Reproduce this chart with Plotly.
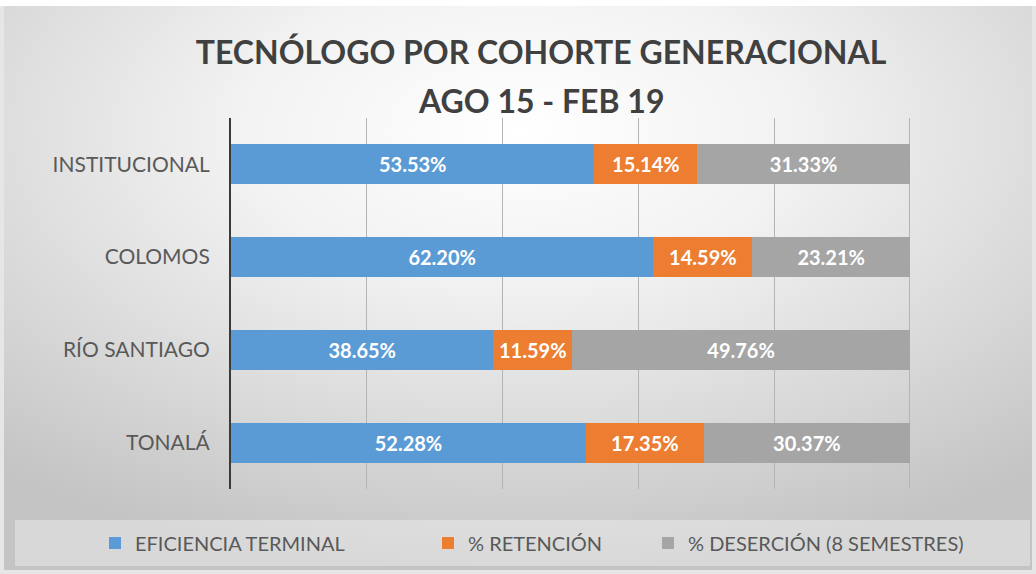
import base64
import plotly.graph_objects as go

categories = ["INSTITUCIONAL", "COLOMOS", "RÍO SANTIAGO", "TONALÁ"]
eficiencia = [53.53, 62.20, 38.65, 52.28]
retencion = [15.14, 14.59, 11.59, 17.35]
desercion = [31.33, 23.21, 49.76, 30.37]
series_names = ["EFICIENCIA TERMINAL", "% RETENCIÓN", "% DESERCIÓN (8 SEMESTRES)"]
colors = ["#5B9BD5", "#ED7D31", "#A5A5A5"]
x_ticks = [0, 20, 40, 60, 80, 100]

W, H = 1036, 574
ML, MR, MT, MB = 231, 125, 118, 85
PW, PH = W - ML - MR, H - MT - MB

FONT = "Lato, 'Open Sans', sans-serif"

svg = f'''<svg xmlns="http://www.w3.org/2000/svg" width="{W}" height="{H}" viewBox="0 0 {W} {H}" preserveAspectRatio="none">
<defs><radialGradient id="g" cx="0.5" cy="0.22" r="0.78">
<stop offset="0" stop-color="#ffffff"/><stop offset="0.35" stop-color="#f2f2f2"/><stop offset="1" stop-color="#c4c4c4"/>
</radialGradient></defs>
<rect x="0" y="0" width="{W}" height="{H}" fill="#e6e6e6"/>
<rect x="0" y="0" width="{W}" height="6" fill="#ffffff"/>
<rect x="4" y="6" width="{W-8}" height="{H-10}" fill="url(#g)"/>
</svg>'''
src = "data:image/svg+xml;base64," + base64.b64encode(svg.encode()).decode()

legend_ids = ["legend", "legend2", "legend3"]
legend_text_x = [135, 468, 688]

fig = go.Figure()
for name, vals, col, lid in zip(series_names, [eficiencia, retencion, desercion], colors, legend_ids):
    fig.add_trace(go.Bar(
        y=categories, x=vals, name=name, orientation="h", legend=lid,
        marker=dict(color=col, line=dict(width=0)),
        text=[f"{v:.2f}%" for v in vals], textposition="inside",
        insidetextanchor="middle", textangle=0, constraintext="none",
        textfont=dict(family=FONT, size=20, color="white", weight="bold"),
        hoverinfo="x+y+name",
    ))

legend_common = dict(orientation="h", xref="container", xanchor="left",
                     y=1 - 543 / H, yref="container", yanchor="middle",
                     bgcolor="rgba(0,0,0,0)", itemwidth=30,
                     font=dict(family=FONT, size=20, color="#595959"))

fig.update_layout(
    width=W, height=H,
    margin=dict(l=ML, r=MR, t=MT, b=MB, pad=0),
    barmode="stack", bargap=0.57,
    paper_bgcolor="white", plot_bgcolor="rgba(0,0,0,0)",
    font=dict(family=FONT, color="#595959"),
    title=dict(text="<b>TECNÓLOGO POR COHORTE GENERACIONAL</b>",
               x=541 / W, xanchor="center", xref="container",
               y=1 - 53 / H, yanchor="middle", yref="container",
               font=dict(family=FONT, size=32, color="#404040")),
    xaxis=dict(range=[0, 100.15], tickvals=x_ticks, showticklabels=False,
               showgrid=True, gridcolor="#b4b4b4", gridwidth=1,
               zeroline=False, showline=False, fixedrange=True),
    yaxis=dict(categoryorder="array", categoryarray=categories[::-1],
               showline=True, linecolor="#3a3a3a", linewidth=2,
               showgrid=False, ticks="", ticklabelstandoff=15,
               tickfont=dict(family=FONT, size=21, color="#595959")),
    legend=dict(x=(legend_text_x[0] - 40) / W, **legend_common),
    legend2=dict(x=(legend_text_x[1] - 40) / W, **legend_common),
    legend3=dict(x=(legend_text_x[2] - 40) / W, **legend_common),
    showlegend=True,
)

fig.add_annotation(text="<b>AGO 15 - FEB 19</b>", xref="paper", yref="paper",
                   x=(541 - ML) / PW, y=1 + (MT - 100) / PH, showarrow=False,
                   xanchor="center", yanchor="middle",
                   font=dict(family=FONT, size=32, color="#404040"))

fig.add_layout_image(dict(source=src, xref="paper", yref="paper",
                          x=-ML / PW, y=1 + MT / PH, sizex=W / PW, sizey=H / PH,
                          xanchor="left", yanchor="top", sizing="stretch",
                          layer="below"))

fig.add_shape(type="rect", xref="paper", yref="paper",
              x0=(15 - ML) / PW, x1=(1030 - ML) / PW,
              y0=-(520 - MT - PH) / PH, y1=-(566 - MT - PH) / PH,
              fillcolor="rgba(255,255,255,0.35)", line=dict(width=0), layer="below")

fig.write_html("out.html", config={"displayModeBar": False},
               post_script="document.body.style.margin='0';")
